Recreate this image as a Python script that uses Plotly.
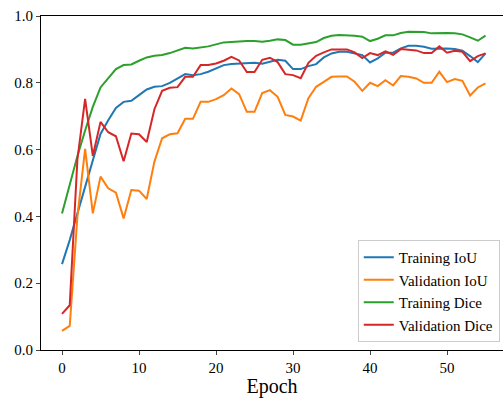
import plotly.graph_objects as go

epochs = list(range(56))

train_iou = [0.257, 0.329, 0.409, 0.489, 0.572, 0.647, 0.688, 0.725, 0.743, 0.746,
             0.763, 0.780, 0.788, 0.790, 0.800, 0.813, 0.826, 0.823, 0.826, 0.833,
             0.843, 0.853, 0.856, 0.858, 0.860, 0.860, 0.857, 0.862, 0.869, 0.866,
             0.841, 0.841, 0.850, 0.856, 0.876, 0.888, 0.893, 0.893, 0.888, 0.883,
             0.861, 0.873, 0.890, 0.890, 0.903, 0.911, 0.911, 0.908, 0.902, 0.903,
             0.903, 0.901, 0.896, 0.880, 0.862, 0.888]

val_iou = [0.057, 0.072, 0.400, 0.602, 0.409, 0.519, 0.484, 0.471, 0.394, 0.479,
           0.477, 0.452, 0.564, 0.634, 0.646, 0.649, 0.692, 0.692, 0.743, 0.743,
           0.751, 0.763, 0.783, 0.766, 0.713, 0.713, 0.769, 0.778, 0.758, 0.704,
           0.699, 0.687, 0.754, 0.788, 0.803, 0.818, 0.819, 0.819, 0.803, 0.776,
           0.800, 0.790, 0.808, 0.792, 0.820, 0.818, 0.813, 0.800, 0.800, 0.833,
           0.802, 0.811, 0.806, 0.762, 0.786, 0.798]

train_dice = [0.409, 0.495, 0.581, 0.657, 0.728, 0.786, 0.815, 0.841, 0.853, 0.855,
              0.866, 0.876, 0.881, 0.883, 0.889, 0.897, 0.905, 0.903, 0.905, 0.909,
              0.915, 0.921, 0.922, 0.924, 0.925, 0.925, 0.923, 0.926, 0.930, 0.928,
              0.914, 0.914, 0.919, 0.922, 0.934, 0.941, 0.943, 0.943, 0.941, 0.938,
              0.925, 0.932, 0.942, 0.942, 0.949, 0.953, 0.953, 0.952, 0.948, 0.949,
              0.949, 0.948, 0.945, 0.936, 0.926, 0.941]

val_dice = [0.108, 0.134, 0.571, 0.752, 0.581, 0.683, 0.652, 0.640, 0.565, 0.648,
            0.646, 0.623, 0.721, 0.776, 0.785, 0.787, 0.818, 0.818, 0.853, 0.853,
            0.858, 0.866, 0.878, 0.867, 0.832, 0.832, 0.869, 0.875, 0.862, 0.826,
            0.823, 0.814, 0.860, 0.881, 0.891, 0.900, 0.900, 0.900, 0.891, 0.874,
            0.889, 0.883, 0.894, 0.884, 0.901, 0.900, 0.897, 0.889, 0.889, 0.909,
            0.890, 0.896, 0.893, 0.865, 0.880, 0.888]

series_names = ["Training IoU", "Validation IoU", "Training Dice", "Validation Dice"]
series_colors = ["#1f77b4", "#ff7f0e", "#2ca02c", "#d62728"]
series_values = [train_iou, val_iou, train_dice, val_dice]

y_ticks = [0.0, 0.2, 0.4, 0.6, 0.8, 1.0]
y_tick_labels = ["0.0", "0.2", "0.4", "0.6", "0.8", "1.0"]
x_ticks = [0, 10, 20, 30, 40, 50]

FONT = "Liberation Serif, Times New Roman, serif"

fig = go.Figure()
for name, color, vals in zip(series_names, series_colors, series_values):
    fig.add_trace(go.Scatter(x=epochs, y=vals, mode="lines", name=name,
                             line=dict(color=color, width=2)))

fig.update_layout(
    width=503, height=398,
    margin=dict(l=41, r=0, t=16, b=48),
    paper_bgcolor="white", plot_bgcolor="white",
    font=dict(family=FONT, size=15, color="black"),
    showlegend=True,
    legend=dict(x=0.993, y=0.024, xanchor="right", yanchor="bottom",
                bgcolor="rgba(255,255,255,0.8)", bordercolor="#cccccc", borderwidth=1,
                font=dict(family=FONT, size=15), tracegroupgap=0),
    xaxis=dict(range=[-2.73, 57.27], tickvals=x_ticks, ticks="outside", ticklen=4,
               tickfont=dict(family=FONT, size=15),
               showgrid=False, zeroline=False, showline=True, linecolor="black",
               linewidth=1, mirror=True,
               title=dict(text="Epoch", font=dict(family=FONT, size=20), standoff=4)),
    yaxis=dict(range=[0, 1], tickvals=y_ticks, ticktext=y_tick_labels, ticks="outside",
               tickfont=dict(family=FONT, size=15),
               ticklen=4, showgrid=False, zeroline=False, showline=True,
               linecolor="black", linewidth=1),
)

fig.write_html("out.html")
